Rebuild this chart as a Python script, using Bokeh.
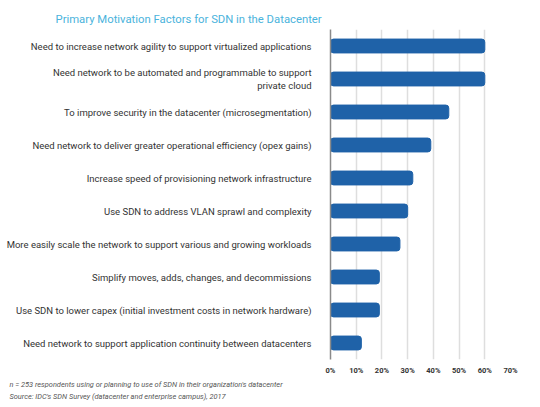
# Primary Motivation Factors for SDN in the Datacenter - horizontal bars with Bokeh
from bokeh.plotting import figure
from bokeh.models import FactorRange, Range1d, FixedTicker, Title
from bokeh.embed import file_html
from bokeh.resources import INLINE

categories = [
    "Need to increase network agility to support virtualized applications",
    "Need network to be automated and programmable to support\nprivate cloud",
    "To improve security in the datacenter (microsegmentation)",
    "Need network to deliver greater operational efficiency (opex gains)",
    "Increase speed of provisioning network infrastructure",
    "Use SDN to address VLAN sprawl and complexity",
    "More easily scale the network to support various and growing workloads",
    "Simplify moves, adds, changes, and decommissions",
    "Use SDN to lower capex (initial investment costs in network hardware)",
    "Need network to support application continuity between datacenters",
]
percents = [60, 60, 46, 39, 32, 30, 27, 19, 19, 12]
tick_values = [0, 10, 20, 30, 40, 50, 60, 70]

title_text = "Primary Motivation Factors for SDN in the Datacenter"
note_text = "n = 253 respondents using or planning to use of SDN in their organization's datacenter"
source_text = "Source: IDC's SDN Survey (datacenter and enterprise campus), 2017"

p = figure(
    width=540, height=407,
    y_range=FactorRange(*reversed(categories), range_padding=0),
    x_range=Range1d(0, 70),
    output_backend="svg", toolbar_location=None,
    min_border_left=330, min_border_right=30,
    min_border_top=29, min_border_bottom=48,
)
p.outline_line_color = None
p.background_fill_color = "white"
p.border_fill_color = "white"

p.hbar(y=categories, right=percents, left=0, height=0.42,
       color="#1f62a8", border_radius=3)

# title (left aligned across the whole figure)
p.title.text = title_text
p.title.align = "left"
p.title.offset = -275
p.title.text_font = "Roboto"
p.title.text_font_size = "11.3px"
p.title.text_font_style = "normal"
p.title.text_color = "#4ab3dc"
p.title.standoff = 7

# footnotes
for txt, gap in [(note_text, 0), (source_text, 3)]:
    p.add_layout(Title(text=txt, align="left", offset=-321,
                       text_font="Roboto", text_font_size="7.4px",
                       text_font_style="italic", text_color="#555555",
                       standoff=gap), "below")

# x axis
p.xaxis.ticker = FixedTicker(ticks=tick_values)
p.xaxis.major_label_overrides = {v: "%d%%" % v for v in tick_values}
p.xaxis.axis_line_color = None
p.xaxis.major_tick_line_color = None
p.xaxis.major_tick_out = 0
p.xaxis.major_tick_in = 0
p.xaxis.minor_tick_line_color = None
p.xaxis.minor_tick_out = 0
p.xaxis.major_label_text_font = "Roboto"
p.xaxis.major_label_text_font_size = "7.5px"
p.xaxis.major_label_text_font_style = "bold"
p.xaxis.major_label_text_color = "#333333"
p.xaxis.major_label_standoff = 6

# y axis
p.yaxis.axis_line_color = "#8a8a8a"
p.yaxis.axis_line_width = 1.5
p.yaxis.major_tick_line_color = None
p.yaxis.minor_tick_line_color = None
p.yaxis.major_label_text_font = "Roboto"
p.yaxis.major_label_text_font_size = "9.5px"
p.yaxis.major_label_text_color = "#333333"
p.yaxis.major_label_standoff = 13

p.xgrid.ticker = FixedTicker(ticks=tick_values)
p.xgrid.grid_line_color = "#dedede"
p.xgrid.grid_line_width = 1.5
p.ygrid.grid_line_color = None

open("out.html", "w").write(file_html(p, INLINE))
